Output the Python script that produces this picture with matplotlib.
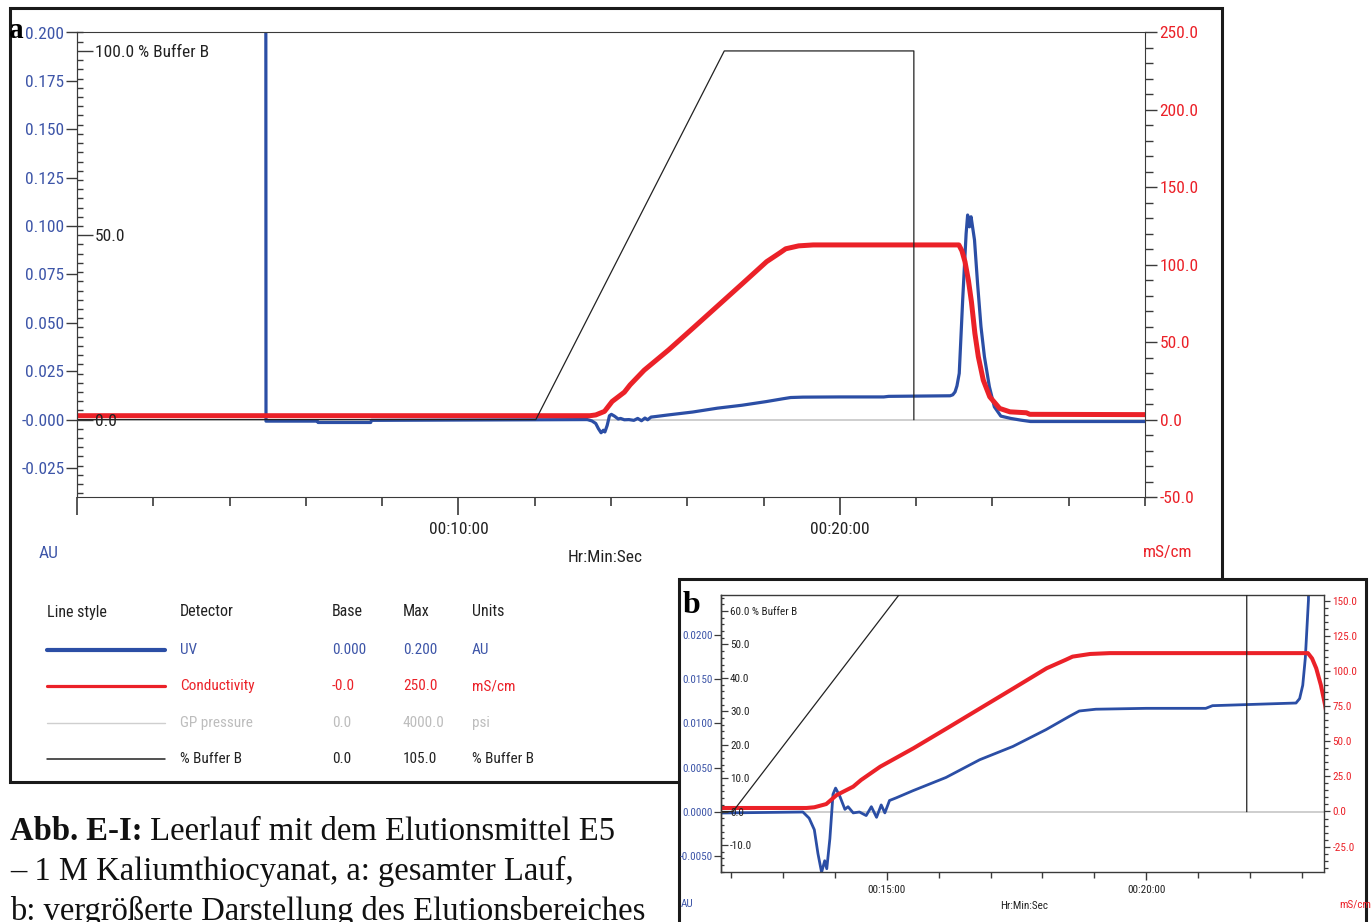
import matplotlib.pyplot as plt
from matplotlib import font_manager
from matplotlib.lines import Line2D
from matplotlib.patches import Rectangle
from matplotlib.ticker import MultipleLocator

# the chromatography software uses a narrow sans; take the narrowest one installed
_fonts = font_manager.fontManager.ttflist
_names = {f.name for f in _fonts}
narrow = None
for cand in ['Liberation Sans Narrow', 'Arial Narrow', 'Roboto Condensed', 'Noto Sans Condensed',
             'Open Sans Condensed', 'Noto Sans SemiCondensed', 'Open Sans SemiCondensed']:
    if cand in _names:
        narrow = cand
        break
if narrow is None:
    for fam in ['DejaVu Sans', 'Noto Sans', 'Open Sans', 'Roboto']:
        if any(f.name == fam and f.stretch in ('condensed', 'semi-condensed') for f in _fonts):
            narrow = fam
            plt.rcParams['font.stretch'] = 'condensed'
            break
plt.rcParams['font.family'] = [narrow or 'Liberation Sans', 'DejaVu Sans']

W, H = 1372, 922

# run data, time in minutes
uv_time = [4.95, 4.955, 6.3, 6.32, 7.7, 7.72, 13.38, 13.5, 13.6, 13.67, 13.74, 13.8,
           13.84, 13.9, 13.96, 14.01, 14.09, 14.19, 14.25, 14.35, 14.47, 14.6, 14.7,
           14.8, 14.89, 14.96, 15.05, 15.18, 15.5, 16.14, 16.79, 17.43, 18.07, 18.52,
           18.71, 19.03, 20.0, 21.15, 21.28, 22.89, 22.96, 23.02, 23.07, 23.13, 23.22,
           23.31, 23.35, 23.4, 23.44, 23.53, 23.61, 23.7, 23.79, 23.92, 24.05, 24.22,
           24.48, 24.75, 25.0, 28.0]
uv_au = [0.25, -0.0008, -0.0008, -0.0015, -0.0015, -0.0004, 0.0, -0.0007, -0.002,
         -0.0047, -0.0068, -0.0055, -0.0064, -0.003, 0.002, 0.0027, 0.0018, 0.0003,
         0.0006, -0.0001, 0.0, -0.0004, 0.0006, -0.0006, 0.0008, -0.0001, 0.0013,
         0.0016, 0.0024, 0.0039, 0.0059, 0.0074, 0.0093, 0.0108, 0.0114, 0.0116,
         0.0117, 0.0117, 0.012, 0.0123, 0.0128, 0.0143, 0.0174, 0.0239, 0.0618, 0.096,
         0.1057, 0.0996, 0.1048, 0.0928, 0.0704, 0.048, 0.0325, 0.017, 0.0066, 0.0018,
         0.0006, -0.0003, -0.001, -0.001]

cond_time = [0.0, 13.45, 13.6, 13.83, 14.03, 14.35, 14.5, 14.87, 15.51, 16.16, 16.8,
             17.44, 18.08, 18.44, 18.58, 18.92, 19.3, 23.12, 23.2, 23.28, 23.37, 23.45,
             23.54, 23.63, 23.76, 23.93, 24.19, 24.46, 24.89, 24.98, 28.0]
cond_ms = [2.5, 2.5, 3.0, 5.3, 11.7, 17.7, 22.4, 31.9, 45.0, 59.3, 73.5, 87.7, 102.0,
           107.9, 110.3, 112.2, 112.8, 112.8, 109.0, 102.0, 90.0, 76.0, 55.7, 40.6, 25.5,
           14.7, 7.2, 5.0, 4.4, 3.4, 3.2]

bufb_time = [0.0, 12.03, 16.97, 21.94, 21.94]
bufb_pct = [0.0, 0.0, 100.0, 100.0, 0.0]

gp_time = [0.0, 28.0]
gp_psi = [0.0, 0.0]

# panel a scales
a_au_ticks = [-0.025, 0.0, 0.025, 0.05, 0.075, 0.1, 0.125, 0.15, 0.175, 0.2]
a_au_labels = ['-0.025', '-0.000', '0.025', '0.050', '0.075', '0.100', '0.125',
               '0.150', '0.175', '0.200']
a_ms_ticks = [-50, 0, 50, 100, 150, 200, 250]
a_ms_labels = ['-50.0', '0.0', '50.0', '100.0', '150.0', '200.0', '250.0']
a_b_ticks = [0, 50, 100]
a_b_labels = ['0.0', '50.0', '100.0 % Buffer B']
a_x_ticks = [0, 10, 20]
a_x_labels = ['', '00:10:00', '00:20:00']

# panel b scales
b_au_ticks = [-0.005, 0.0, 0.005, 0.01, 0.015, 0.02]
b_au_labels = ['-0.0050', '0.0000', '0.0050', '0.0100', '0.0150', '0.0200']
b_ms_ticks = [-25, 0, 25, 50, 75, 100, 125, 150]
b_ms_labels = ['-25.0', '0.0', '25.0', '50.0', '75.0', '100.0', '125.0', '150.0']
b_b_ticks = [-10, 0, 10, 20, 30, 40, 50, 60]
b_b_labels = ['-10.0', '0.0', '10.0', '20.0', '30.0', '40.0', '50.0', '60.0 % Buffer B']
b_x_ticks = [15, 20]
b_x_labels = ['00:15:00', '00:20:00']

# legend table
leg_names = ['UV', 'Conductivity', 'GP pressure', '% Buffer B']
leg_base = ['0.000', '-0.0', '0.0', '0.0']
leg_max = ['0.200', '250.0', '4000.0', '105.0']
leg_units = ['AU', 'mS/cm', 'psi', '% Buffer B']

BLUE = '#2b4ea5'
BLUE_T = '#3d55a8'
RED = '#eb2128'
GRAY = '#c6c6c6'
INK = '#222222'
AXC = '#3a3a3a'


def fx(x):
    return x / W


def fy(y):
    return 1 - y / H


fig = plt.figure(figsize=(W / 100, H / 100), dpi=100)
fig.patch.set_facecolor('white')


def panel(box, z, xlim, au_lim, ms_lim, b_lim, p_lim, lw_uv, lw_ms):
    l, t, r, b = box
    ax = fig.add_axes([fx(l), fy(b), fx(r) - fx(l), fy(t) - fy(b)])
    ax_p = ax.twinx()
    ax_ms = ax.twinx()
    ax_b = ax.twinx()
    ax_p.set_zorder(z)
    ax.set_zorder(z + 0.1)
    ax_ms.set_zorder(z + 0.2)
    ax_b.set_zorder(z + 0.3)
    ax.patch.set_visible(False)

    ax_p.plot(gp_time, gp_psi, color=GRAY, lw=1.2)
    ax_p.set_ylim(*p_lim)
    ax_p.set_axis_off()
    ax.plot(uv_time, uv_au, color=BLUE, lw=lw_uv, solid_joinstyle='round')
    ax_ms.plot(cond_time, cond_ms, color=RED, lw=lw_ms, solid_joinstyle='round')
    ax_b.plot(bufb_time, bufb_pct, color=INK, lw=0.9)

    ax.set_xlim(*xlim)
    ax.set_ylim(*au_lim)
    ax_ms.set_ylim(*ms_lim)
    ax_b.set_ylim(*b_lim)

    for s in ['left', 'top', 'bottom']:
        ax.spines[s].set_color(AXC)
        ax_ms.spines[s].set_visible(False)
        ax_b.spines[s].set_visible(False)
    ax.spines['right'].set_visible(False)
    ax_ms.spines['right'].set_color(AXC)
    ax_b.spines['right'].set_position(('axes', 0.0))
    ax_b.spines['right'].set_color(AXC)
    return ax, ax_ms, ax_b


# ---- panel a ----
ax, ax_ms, ax_b = panel((77, 32.5, 1145, 497), 0, (0, 28), (-0.04, 0.2), (-50, 250),
                        (-21, 105), (-800, 4000), 2.3, 3.6)
ax.set_yticks(a_au_ticks, a_au_labels)
ax.tick_params(axis='y', direction='out', length=8, width=1, pad=1, labelsize=12.5,
               labelcolor=BLUE_T, color=AXC)
ax.set_xticks(a_x_ticks, a_x_labels)
ax.xaxis.set_minor_locator(MultipleLocator(2))
ax.tick_params(axis='x', which='major', length=13, width=1.2, pad=5, labelsize=12.5,
               color=AXC, labelcolor=INK)
ax.tick_params(axis='x', which='minor', length=6.5, width=1.2, color=AXC)
ax_ms.set_yticks(a_ms_ticks, a_ms_labels)
ax_ms.yaxis.set_minor_locator(MultipleLocator(10))
ax_ms.tick_params(axis='y', which='major', length=8.6, width=1, pad=2, labelsize=12.5,
                  labelcolor=RED, color=AXC)
ax_ms.tick_params(axis='y', which='minor', length=5.5, width=1, color=AXC)
ax_b.set_yticks(a_b_ticks, a_b_labels)
ax_b.yaxis.set_minor_locator(MultipleLocator(2.5))
ax_b.tick_params(axis='y', which='major', direction='out', length=11.5, width=1, pad=1.5,
                 labelsize=12.5, labelcolor=INK, color=AXC)
ax_b.tick_params(axis='y', which='minor', direction='out', length=4.5, width=1, color=AXC)

fig.text(fx(49), fy(553), 'AU', color=BLUE_T, fontsize=12.5, ha='center', va='center')
fig.text(fx(605), fy(557), 'Hr:Min:Sec', color=INK, fontsize=12.5, ha='center', va='center')
fig.text(fx(1168), fy(553), 'mS/cm', color=RED, fontsize=12.5, ha='center', va='center')
fig.text(fx(9), fy(38), 'a', family='Liberation Serif', fontweight='bold', fontsize=21,
         color='black', va='baseline', zorder=6)

fig.add_artist(Rectangle((fx(10), fy(782)), fx(1222) - fx(10), fy(8) - fy(782),
                         transform=fig.transFigure, fill=False, lw=2.2, ec='#1a1a1a', zorder=1))

# legend table
hdr_y = 612
for x, s in zip([47, 180, 332, 403, 472], ['Line style', 'Detector', 'Base', 'Max', 'Units']):
    fig.text(fx(x), fy(hdr_y), s, fontsize=11.5, color=INK, va='center')
row_y = [650, 686, 723, 759]
row_col = [BLUE_T, RED, '#bdbdbd', INK]
row_lc = [BLUE, RED, '#cfcfcf', INK]
row_lw = [3.0, 2.3, 1.0, 1.1]
for i in range(4):
    y = row_y[i]
    fig.add_artist(Line2D([fx(47), fx(165)], [fy(y), fy(y)], transform=fig.transFigure,
                          color=row_lc[i], lw=row_lw[i], solid_capstyle='round'))
    for x, s in zip([180, 332, 403, 472], [leg_names[i], leg_base[i], leg_max[i], leg_units[i]]):
        fig.text(fx(x), fy(y), s, fontsize=11, color=row_col[i], va='center')

# caption
CAP_FS = 23.5
cap = fig.text(fx(10), fy(840), 'Abb. E-I:', family='Liberation Serif', fontweight='bold',
               fontsize=CAP_FS, color='#111111', va='baseline')
fig.canvas.draw()
bb = cap.get_window_extent(fig.canvas.get_renderer())
fig.text(bb.x1 / W, fy(840), ' Leerlauf mit dem Elutionsmittel E5', family='Liberation Serif',
         fontsize=CAP_FS, color='#111111', va='baseline')
fig.text(fx(10), fy(880), '\u2013 1 M Kaliumthiocyanat, a: gesamter Lauf,', family='Liberation Serif',
         fontsize=CAP_FS, color='#111111', va='baseline')
fig.text(fx(10), fy(920), 'b: vergr\u00f6\u00dferte Darstellung des Elutionsbereiches',
         family='Liberation Serif', fontsize=CAP_FS, color='#111111', va='baseline')

# ---- panel b ----
fig.add_artist(Rectangle((fx(679), fy(935)), fx(1366) - fx(679), fy(579) - fy(935),
                         transform=fig.transFigure, fc='white', lw=2.2, ec='#1a1a1a', zorder=4))
bx, bx_ms, bx_b = panel((721, 595, 1324, 872), 5, (11.8, 23.43), (-0.00677, 0.02449),
                        (-43.1, 154.2), (-18.1, 64.8), (-135.4, 489.8), 2.0, 2.9)
bx.set_yticks(b_au_ticks, b_au_labels)
bx.tick_params(axis='y', direction='out', length=5, width=0.9, pad=1, labelsize=8,
               labelcolor=BLUE_T, color=AXC)
bx.set_xticks(b_x_ticks, b_x_labels)
bx.xaxis.set_minor_locator(MultipleLocator(1))
bx.tick_params(axis='x', which='major', length=6, width=1, pad=3, labelsize=8,
               color=AXC, labelcolor=INK)
bx.tick_params(axis='x', which='minor', length=4.2, width=1, color=AXC)
bx_ms.set_yticks(b_ms_ticks, b_ms_labels)
bx_ms.yaxis.set_minor_locator(MultipleLocator(5))
bx_ms.tick_params(axis='y', which='major', length=4.5, width=0.9, pad=1.5, labelsize=8,
                  labelcolor=RED, color=AXC)
bx_ms.tick_params(axis='y', which='minor', length=3, width=0.9, color=AXC)
bx_b.set_yticks(b_b_ticks, b_b_labels)
bx_b.yaxis.set_minor_locator(MultipleLocator(2))
bx_b.tick_params(axis='y', which='major', direction='out', length=5, width=0.9, pad=1.5,
                 labelsize=8, labelcolor=INK, color=AXC)
bx_b.tick_params(axis='y', which='minor', direction='out', length=2.5, width=0.9, color=AXC)
for a in (bx, bx_ms, bx_b):
    for s in a.spines.values():
        s.set_linewidth(1.0)

fig.text(fx(687), fy(904), 'AU', color=BLUE_T, fontsize=8, ha='center', va='center', zorder=6)
fig.text(fx(1024), fy(906), 'Hr:Min:Sec', color=INK, fontsize=8, ha='center', va='center', zorder=6)
fig.text(fx(1371), fy(904), 'mS/cm', color=RED, fontsize=8, ha='right', va='center', zorder=6)
fig.text(fx(683), fy(613), 'b', family='Liberation Serif', fontweight='bold', fontsize=23,
         color='black', va='baseline', zorder=6)

fig.savefig('out.png', dpi=100, facecolor='white')
